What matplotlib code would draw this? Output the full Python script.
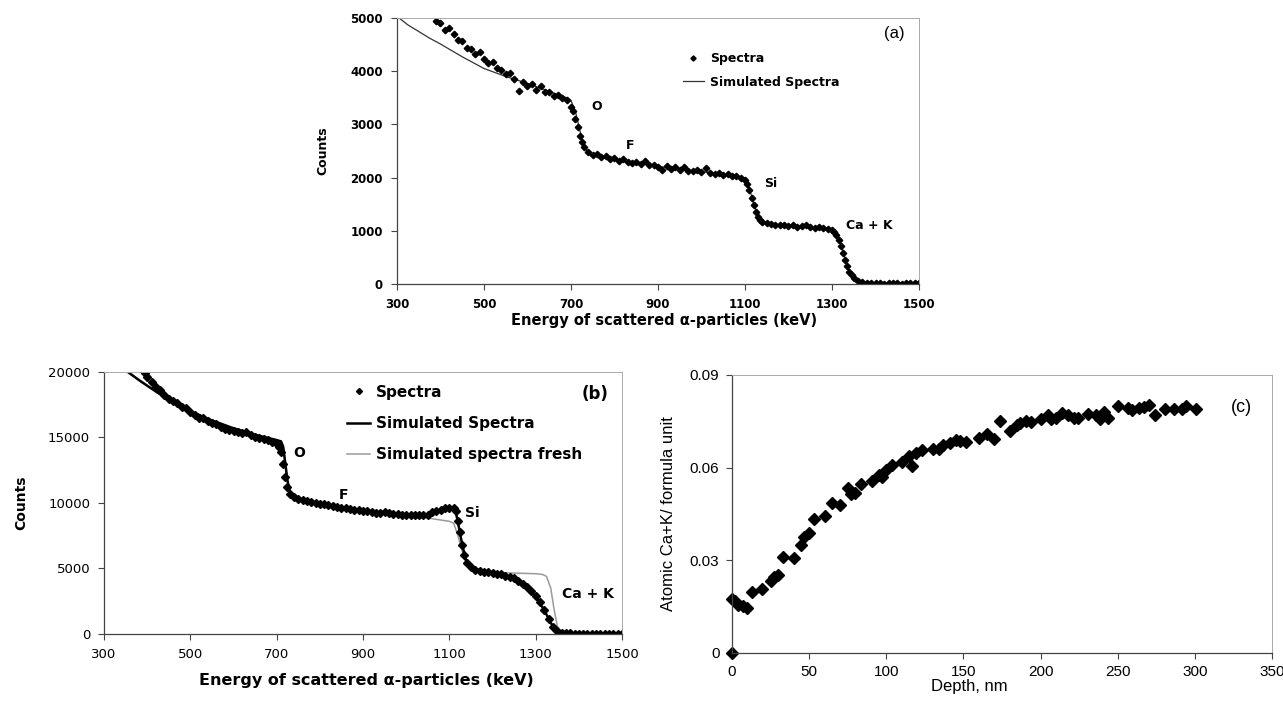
import matplotlib.pyplot as plt

# ---- panel (a) data ----
a_energy = [390, 400, 410, 420, 430, 440, 450, 460, 470, 480, 490, 500, 510, 520, 530,
            540, 550, 560, 570, 580, 590, 600, 610, 620, 630, 640, 650, 660, 670, 680,
            690, 700, 705, 710, 715, 720, 725, 730, 740, 750, 760, 770, 780, 790, 800,
            810, 820, 830, 840, 850, 860, 870, 880, 890, 900, 910, 920, 930, 940, 950,
            960, 970, 980, 990, 1000, 1010, 1020, 1030, 1040, 1050, 1060, 1070, 1080,
            1090, 1100, 1105, 1110, 1115, 1120, 1125, 1130, 1135, 1140, 1150, 1160, 1170,
            1180, 1190, 1200, 1210, 1220, 1230, 1240, 1250, 1260, 1270, 1280, 1290, 1300,
            1305, 1310, 1315, 1320, 1325, 1330, 1335, 1340, 1345, 1350, 1360, 1370, 1380,
            1390, 1400, 1410, 1420, 1430, 1440, 1450, 1460, 1470, 1480, 1490, 1500]
a_counts = [4950, 4900, 4780, 4820, 4690, 4580, 4560, 4440, 4420, 4330, 4360, 4230, 4150,
            4180, 4050, 4020, 3940, 3960, 3850, 3620, 3800, 3720, 3760, 3650, 3720, 3610,
            3600, 3540, 3560, 3490, 3460, 3330, 3250, 3100, 2950, 2780, 2660, 2580, 2480,
            2420, 2440, 2390, 2400, 2350, 2360, 2320, 2340, 2300, 2280, 2300, 2250, 2320,
            2230, 2240, 2200, 2150, 2210, 2170, 2190, 2140, 2200, 2130, 2120, 2150, 2100,
            2180, 2080, 2060, 2090, 2040, 2060, 2020, 2030, 2000, 1960, 1880, 1760, 1620,
            1480, 1360, 1260, 1200, 1170, 1140, 1120, 1110, 1100, 1110, 1090, 1100, 1080,
            1090, 1100, 1070, 1060, 1070, 1050, 1040, 1010, 980, 920, 830, 720, 590, 450,
            330, 230, 160, 110, 60, 30, 20, 15, 10, 12, 8, 10, 9, 11, 8, 10, 9, 12, 10]
a_sim_energy = [300, 325, 350, 375, 400, 450, 500, 550, 600, 650, 690, 700, 710, 720, 730,
                740, 760, 800, 900, 1000, 1090, 1100, 1110, 1120, 1130, 1140, 1160, 1200,
                1300, 1310, 1320, 1330, 1340, 1350, 1370, 1400, 1500]
a_sim_counts = [5030, 4870, 4745, 4620, 4510, 4270, 4050, 3900, 3770, 3620, 3500, 3450,
                3250, 2900, 2600, 2450, 2390, 2340, 2210, 2110, 2010, 1970, 1800, 1500,
                1280, 1180, 1130, 1100, 1030, 950, 750, 480, 250, 110, 30, 10, 10]

# ---- panel (b) data ----
b_energy = [395, 400, 410, 420, 430, 440, 450, 460, 470, 480, 490, 500, 510, 520, 530,
            540, 550, 560, 570, 580, 590, 600, 610, 620, 630, 640, 650, 660, 670, 680,
            690, 700, 705, 710, 715, 720, 725, 730, 740, 750, 760, 770, 780, 790, 800,
            810, 820, 830, 840, 850, 860, 870, 880, 890, 900, 910, 920, 930, 940, 950,
            960, 970, 980, 990, 1000, 1010, 1020, 1030, 1040, 1050, 1060, 1070, 1080,
            1090, 1100, 1110, 1115, 1120, 1125, 1130, 1135, 1140, 1150, 1160, 1170, 1180,
            1190, 1200, 1210, 1220, 1230, 1240, 1250, 1260, 1270, 1280, 1290, 1300, 1310,
            1320, 1330, 1340, 1350, 1360, 1370, 1380, 1390, 1400, 1410, 1420, 1430, 1440,
            1450, 1460, 1470, 1480, 1490, 1500]
b_counts = [19950, 19600, 19250, 18850, 18600, 18250, 17950, 17800, 17650, 17300, 17250,
            16950, 16700, 16500, 16450, 16250, 16100, 16000, 15800, 15650, 15600, 15500,
            15400, 15350, 15400, 15150, 15050, 14950, 14850, 14800, 14650, 14500, 14300,
            13900, 13000, 12000, 11200, 10700, 10450, 10300, 10200, 10150, 10100, 10000,
            9950, 9900, 9850, 9800, 9700, 9650, 9600, 9550, 9500, 9450, 9400, 9350, 9300,
            9250, 9250, 9300, 9200, 9150, 9150, 9100, 9100, 9100, 9050, 9050, 9050, 9100,
            9300, 9350, 9450, 9600, 9650, 9600, 9350, 8600, 7800, 6800, 6000, 5450, 5100,
            4900, 4800, 4750, 4700, 4650, 4600, 4550, 4450, 4350, 4250, 4050, 3850, 3550,
            3250, 2900, 2450, 1850, 1150, 550, 250, 100, 60, 40, 30, 35, 25, 30, 20, 30, 25,
            20, 30, 25, 20, 25]
b_sim_energy = [355, 380, 400, 450, 500, 550, 600, 650, 700, 710, 715, 720, 725, 730, 740,
                800, 900, 1000, 1050, 1080, 1100, 1110, 1115, 1120, 1130, 1140, 1150, 1200,
                1250, 1300, 1320, 1340, 1360, 1400, 1500]
b_sim_counts = [20000, 19400, 18950, 17850, 17000, 16300, 15700, 15200, 14800, 14700,
                14300, 13000, 11700, 10900, 10450, 9950, 9400, 9100, 9100, 9400, 9650, 9600,
                9300, 8500, 6800, 5400, 5050, 4650, 4200, 2900, 1800, 550, 100, 30, 30]
b_fresh_energy = [355, 380, 400, 450, 500, 550, 600, 650, 700, 710, 715, 720, 725, 730,
                  740, 800, 900, 1000, 1040, 1100, 1110, 1120, 1130, 1140, 1150, 1160, 1200,
                  1250, 1300, 1315, 1325, 1335, 1342, 1350, 1360, 1370, 1400, 1500]
b_fresh_counts = [20000, 19400, 18950, 17850, 17000, 16300, 15700, 15200, 14800, 14700,
                  14300, 13000, 11700, 10900, 10450, 9950, 9400, 9050, 8900, 8600, 8450,
                  7500, 6300, 5300, 4950, 4800, 4700, 4650, 4600, 4550, 4400, 3500, 2000,
                  600, 150, 50, 30, 30]

# ---- panel (c) data ----
depth = [0, 0, 2, 4, 7, 10, 13, 19.5, 25, 27.5, 30, 33, 40, 45, 47, 50, 53, 60, 65, 70,
         75.5, 77, 80, 83.5, 91, 95, 97.5, 100, 104, 110, 115, 117, 119.5, 123, 130, 134,
         137, 141, 145, 148, 152, 160, 165, 170, 173.5, 180, 185, 187, 190.5, 194, 200, 205,
         207, 210, 214, 218, 222, 224.5, 231, 236, 238.5, 241, 244, 250, 256.5, 259, 264,
         267, 270.5, 274, 280.5, 286.5, 291.5, 294, 300.5]
conc = [0, 0.0174, 0.0167, 0.0156, 0.0151, 0.0147, 0.0197, 0.0206, 0.0234, 0.0245, 0.0253,
        0.0312, 0.0306, 0.0349, 0.0374, 0.0387, 0.0433, 0.0445, 0.0486, 0.048, 0.0534,
        0.0514, 0.0518, 0.0548, 0.0558, 0.0575, 0.057, 0.0591, 0.061, 0.0617, 0.0639,
        0.0604, 0.0647, 0.0656, 0.0659, 0.066, 0.0674, 0.068, 0.069, 0.0685, 0.0682, 0.0697,
        0.0708, 0.0694, 0.075, 0.072, 0.0737, 0.0744, 0.075, 0.0749, 0.0758, 0.0769, 0.0759,
        0.0761, 0.0776, 0.0772, 0.0761, 0.0761, 0.0774, 0.0772, 0.0758, 0.0779, 0.0761,
        0.0798, 0.0794, 0.0787, 0.0794, 0.0796, 0.0804, 0.0771, 0.0791, 0.0791, 0.0791,
        0.0798, 0.0791]

energy_ticks = [300, 500, 700, 900, 1100, 1300, 1500]
BOLD = "DejaVu Sans"
PLAIN = "Liberation Sans"


def style_frame(ax):
    for side in ("left", "bottom"):
        ax.spines[side].set_color("#444444")
        ax.spines[side].set_linewidth(0.9)
    for side in ("top", "right"):
        ax.spines[side].set_color("#aaaaaa")
        ax.spines[side].set_linewidth(0.7)
    ax.tick_params(direction="out", length=4, width=0.8, colors="#444444",
                   labelcolor="black")


fig = plt.figure(figsize=(12.83, 7.01), dpi=100)

# ---------------- (a) ----------------
ax_a = fig.add_axes([0.3094, 0.5949, 0.4069, 0.3795])
ax_a.plot(a_sim_energy, a_sim_counts, color="#333333", lw=0.9, label="Simulated Spectra")
ax_a.plot(a_energy, a_counts, ls="none", marker="D", ms=3.3, color="black",
          label="Spectra")
ax_a.set_xlim(300, 1500)
ax_a.set_ylim(0, 5000)
ax_a.set_xticks(energy_ticks)
ax_a.set_yticks([0, 1000, 2000, 3000, 4000, 5000])
style_frame(ax_a)
ax_a.tick_params(pad=6)
for lab in ax_a.get_xticklabels() + ax_a.get_yticklabels():
    lab.set_fontfamily(BOLD)
    lab.set_fontweight("bold")
    lab.set_fontsize(8.5)
ax_a.set_xlabel("Energy of scattered α-particles (keV)", family=BOLD,
                fontweight="bold", fontsize=10.5)
ax_a.set_ylabel("Counts", family=BOLD, fontweight="bold", fontsize=9)
ax_a.xaxis.set_label_coords(0.511, -0.139)
ax_a.yaxis.set_label_coords(-0.142, 0.5)
ax_a.xaxis.label.set_va("center")
ax_a.yaxis.label.set_va("center")
h, l = ax_a.get_legend_handles_labels()
ax_a.legend([h[1], h[0]], [l[1], l[0]], loc="upper left", bbox_to_anchor=(0.535, 0.895),
            frameon=False, borderpad=0, numpoints=1, handlelength=1.75,
            handletextpad=0.45, labelspacing=0.85, markerscale=0.8,
            prop={"family": BOLD, "weight": "bold", "size": 9})
for txt, x, y, ha in [("O", 758, 3337, "center"), ("F", 836, 2612, "center"),
                      ("Si", 1160, 1892, "center"), ("Ca + K", 1332, 1098, "left")]:
    ax_a.text(x, y, txt, ha=ha, va="center", family=BOLD, fontweight="bold", fontsize=9)
ax_a.text(1443, 4708, "(a)", ha="center", va="center", family=PLAIN, fontsize=12)

# ---------------- (b) ----------------
ax_b = fig.add_axes([0.0811, 0.0956, 0.4037, 0.3738])
ax_b.plot(b_fresh_energy, b_fresh_counts, color="#9a9a9a", lw=1.1,
          label="Simulated spectra fresh")
ax_b.plot(b_sim_energy, b_sim_counts, color="black", lw=1.8, label="Simulated Spectra")
ax_b.plot(b_energy, b_counts, ls="none", marker="D", ms=4.4, color="black",
          label="Spectra")
ax_b.set_xlim(300, 1500)
ax_b.set_ylim(0, 20000)
ax_b.set_xticks(energy_ticks)
ax_b.set_yticks([0, 5000, 10000, 15000, 20000])
style_frame(ax_b)
ax_b.tick_params(pad=6)
for lab in ax_b.get_xticklabels() + ax_b.get_yticklabels():
    lab.set_fontfamily(BOLD)
    lab.set_fontsize(9.5)
ax_b.set_xlabel("Energy of scattered α-particles (keV)", family=BOLD,
                fontweight="bold", fontsize=11.5)
ax_b.set_ylabel("Counts", family=BOLD, fontweight="bold", fontsize=10)
ax_b.xaxis.set_label_coords(0.506, -0.176)
ax_b.yaxis.set_label_coords(-0.16, 0.5)
ax_b.xaxis.label.set_va("center")
ax_b.yaxis.label.set_va("center")
h, l = ax_b.get_legend_handles_labels()
ax_b.legend([h[2], h[1], h[0]], [l[2], l[1], l[0]], loc="upper left",
            bbox_to_anchor=(0.455, 0.98), frameon=False, borderpad=0, numpoints=1,
            handlelength=1.5, handletextpad=0.35, labelspacing=1.05, markerscale=0.7,
            prop={"family": BOLD, "weight": "bold", "size": 11})
for txt, x, y, ha in [("O", 752, 13800, "center"), ("F", 854, 10630, "center"),
                      ("Si", 1153, 9210, "center"), ("Ca + K", 1422, 3070, "center")]:
    ax_b.text(x, y, txt, ha=ha, va="center", family=BOLD, fontweight="bold", fontsize=10)
ax_b.text(1437, 18300, "(b)", ha="center", va="center", family=BOLD,
          fontweight="bold", fontsize=12)

# ---------------- (c) ----------------
ax_c = fig.add_axes([0.5705, 0.0685, 0.4209, 0.3966])
ax_c.plot(depth, conc, ls="none", marker="D", ms=6, color="black", clip_on=False)
ax_c.set_xlim(0, 350)
ax_c.set_ylim(0, 0.09)
ax_c.set_xticks([0, 50, 100, 150, 200, 250, 300, 350])
ax_c.set_yticks([0, 0.03, 0.06, 0.09])
ax_c.set_yticklabels(["0", "0.03", "0.06", "0.09"])
style_frame(ax_c)
ax_c.tick_params(pad=5)
for lab in ax_c.get_xticklabels() + ax_c.get_yticklabels():
    lab.set_fontfamily(PLAIN)
    lab.set_fontsize(11)
ax_c.set_xlabel("Depth, nm", family=PLAIN, fontsize=12)
ax_c.set_ylabel("Atomic Ca+K/ formula unit", family=PLAIN, fontsize=12)
ax_c.xaxis.set_label_coords(0.44, -0.119)
ax_c.yaxis.set_label_coords(-0.117, 0.5)
ax_c.xaxis.label.set_va("center")
ax_c.yaxis.label.set_va("center")
ax_c.text(330, 0.0795, "(c)", ha="center", va="center", family=PLAIN, fontsize=13)

fig.savefig("out.png", dpi=100)
